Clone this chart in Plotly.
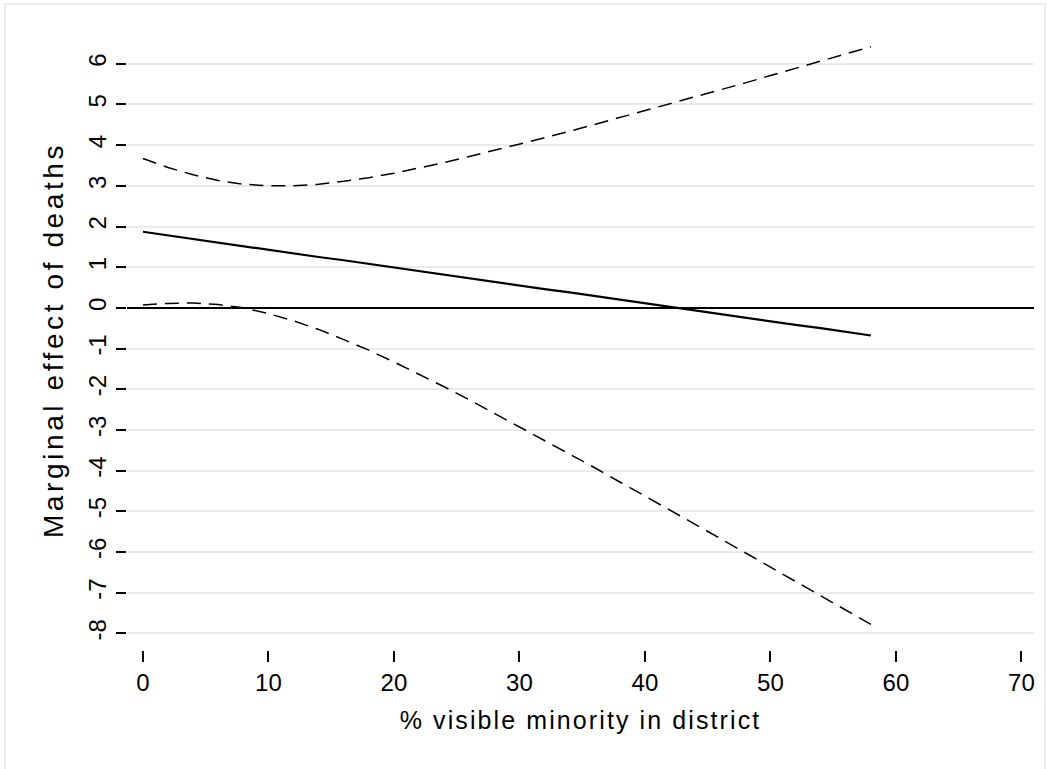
import plotly.graph_objects as go

x_vals = [0, 2, 4, 6, 8, 10, 12, 14, 16, 18, 20, 22, 24, 26, 28, 30,
          32, 34, 36, 38, 40, 42, 44, 46, 48, 50, 52, 54, 56, 58]
marginal_effect = [1.87, 1.78, 1.69, 1.61, 1.52, 1.43, 1.34, 1.25, 1.17, 1.08,
                   0.99, 0.90, 0.82, 0.73, 0.64, 0.55, 0.46, 0.38, 0.29, 0.20,
                   0.11, 0.02, -0.07, -0.15, -0.24, -0.33, -0.42, -0.50, -0.59, -0.68]
upper_ci = [3.67, 3.45, 3.27, 3.13, 3.04, 3.00, 3.00, 3.04, 3.11, 3.20,
            3.31, 3.44, 3.57, 3.72, 3.87, 4.02, 4.18, 4.34, 4.51, 4.67,
            4.84, 5.01, 5.19, 5.36, 5.53, 5.71, 5.89, 6.06, 6.24, 6.42]
lower_ci = [0.07, 0.11, 0.12, 0.08, 0.00, -0.14, -0.32, -0.53, -0.78, -1.04,
            -1.33, -1.63, -1.94, -2.26, -2.59, -2.92, -3.25, -3.59, -3.93, -4.28,
            -4.62, -4.97, -5.32, -5.67, -6.02, -6.37, -6.72, -7.07, -7.43, -7.78]

x_ticks = [0, 10, 20, 30, 40, 50, 60, 70]
y_ticks = [-8, -7, -6, -5, -4, -3, -2, -1, 0, 1, 2, 3, 4, 5, 6]
y_tick_labels = ["-8", "-7", "-6", "-5", "-4", "-3", "-2", "-1", "0", "1", "2", "3", "4", "5", "6"]

x_title = "% visible minority in district"
y_title = "Marginal effect of deaths"

W, H = 1047, 769
L, R, T, B = 127, 13, 30, 119
pw = W - L - R
ph = H - T - B

fig = go.Figure()
dash_style = dict(color="black", width=1.5, dash="14px,8px")
fig.add_trace(go.Scatter(x=x_vals, y=upper_ci, mode="lines", line=dash_style,
                         showlegend=False, hoverinfo="skip"))
fig.add_trace(go.Scatter(x=x_vals, y=lower_ci, mode="lines", line=dash_style,
                         showlegend=False, hoverinfo="skip"))
fig.add_trace(go.Scatter(x=x_vals, y=marginal_effect, mode="lines",
                         line=dict(color="black", width=2.2),
                         showlegend=False, hoverinfo="skip"))

# light outer frame of the graph region
fig.add_shape(type="rect", xref="paper", yref="paper",
              x0=(5 - L) / pw, x1=(1045 - L) / pw,
              y0=-(775 - (H - B)) / ph, y1=1 + (T - 4) / ph,
              line=dict(color="#eeeeee", width=2), fillcolor="rgba(0,0,0,0)", layer="below")

font_family = "Liberation Sans, Arial, Helvetica, sans-serif"
fig.update_layout(
    width=W, height=H,
    margin=dict(l=L, r=R, t=T, b=B),
    paper_bgcolor="white", plot_bgcolor="white",
    font=dict(family=font_family, size=24, color="black"),
    xaxis=dict(range=[-1.27, 71.0], tickvals=x_ticks, ticks="outside", ticklen=11,
               tickwidth=1.5, tickcolor="black", showgrid=False, zeroline=False,
               showline=False, tickfont=dict(size=24),
               title=dict(text='<span style="letter-spacing:2.1px">' + x_title + '</span>',
                          font=dict(size=25), standoff=16)),
    yaxis=dict(range=[-8.41, 6.83], tickvals=y_ticks, ticktext=y_tick_labels,
               ticks="outside", ticklen=10,
               tickwidth=1.5, tickcolor="black", showgrid=True, gridcolor="#eaeaea",
               gridwidth=2, zeroline=True, zerolinecolor="black", zerolinewidth=2.2,
               showline=False, tickangle=-90, tickfont=dict(size=24),
               title=dict(text='<span style="letter-spacing:3.6px">' + y_title + '</span>',
                          font=dict(size=28), standoff=12)),
)

fig.write_html("out.html")
